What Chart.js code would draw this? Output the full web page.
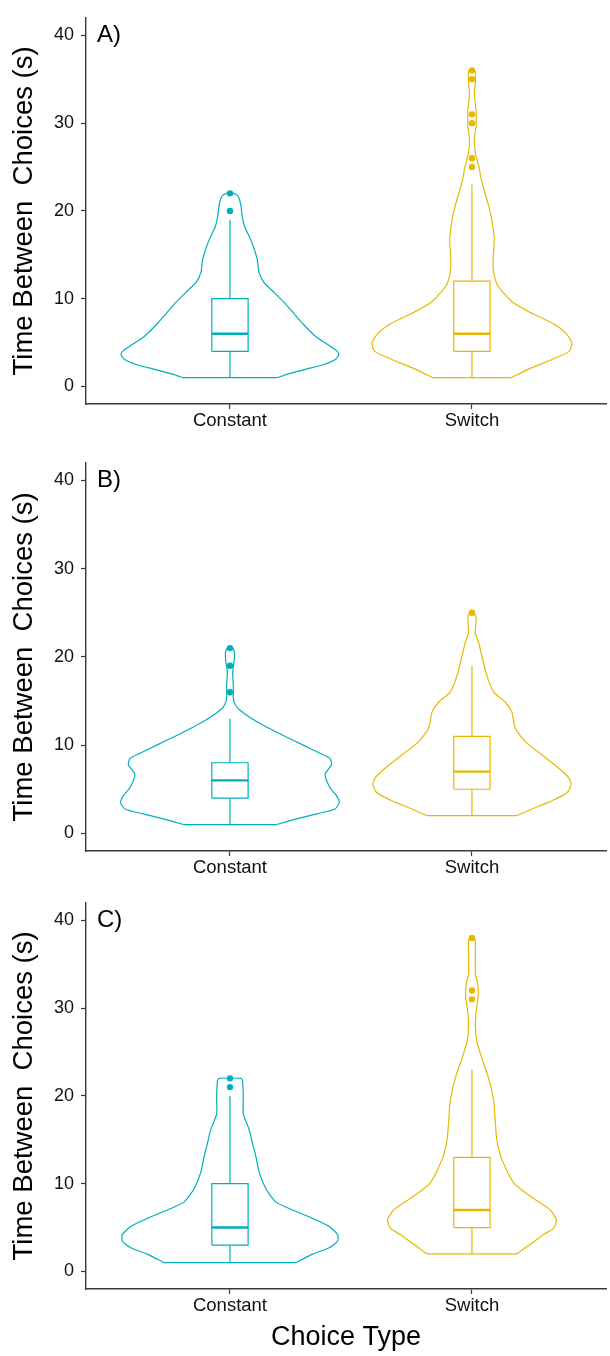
<!DOCTYPE html>
<html>
<head>
<meta charset="utf-8">
<script src="https://cdn.jsdelivr.net/npm/chart.js@4"></script>
<style>
  body { margin: 0; background: #fff; }
  canvas { display: block; }
</style>
</head>
<body>
<canvas id="panelA" width="610" height="445"></canvas>
<canvas id="panelB" width="610" height="440"></canvas>
<canvas id="panelC" width="610" height="471"></canvas>
<script>
const categories = ["Constant", "Switch"];
const panelLabels = ["A)", "B)", "C)"];
const yTicks = [0, 10, 20, 30, 40];
const groupColors = ["#00AFBB", "#E7B800"];

// boxplot summaries, one row per panel, [Constant, Switch]
const whiskerLow  = [[1, 1], [1, 2], [1, 2]];
const q1          = [[4, 4], [4, 5], [3, 5]];
const median      = [[6, 6], [6, 7], [5, 7]];
const q3          = [[10, 12], [8, 11], [10, 13]];
const whiskerHigh = [[19, 23], [13, 19], [20, 23]];
const outliers = [
  [[20, 22], [25, 26, 30, 31, 35, 36]],
  [[16, 19, 21], [25]],
  [[21, 22], [31, 32, 38]]
];

// violin outlines: [time, half width]
const violinAConstant = [[1.0,0.196],[1.4,0.237],[2.0,0.32],[2.5,0.388],[3.1,0.437],[3.65,0.45],[4.0,0.444],[4.8,0.402],[5.7,0.354],[7.0,0.306],[8.3,0.264],[9.6,0.223],[10.9,0.175],[11.85,0.14],[13.0,0.12],[14.45,0.113],[15.75,0.099],[16.7,0.086],[18.2,0.061],[19.3,0.051],[20.8,0.044],[21.7,0.033],[22.0,0.014]];
const violinASwitch = [[1.0,0.161],[2.0,0.237],[3.1,0.333],[4.0,0.402],[4.95,0.413],[6.07,0.388],[7.2,0.333],[8.3,0.25],[9.6,0.168],[11.5,0.106],[13.3,0.088],[14.8,0.088],[16.7,0.092],[18.5,0.085],[20.4,0.071],[22.3,0.051],[23.8,0.037],[24.9,0.03],[25.6,0.023],[26.7,0.014],[28.2,0.01],[29.7,0.017],[31.4,0.017],[33.4,0.01],[34.6,0.014],[35.9,0.014],[36.1,0.006]];
const violinBConstant = [[1.0,0.193],[1.64,0.276],[2.2,0.358],[2.76,0.434],[3.5,0.452],[4.25,0.441],[5.2,0.413],[6.67,0.393],[7.8,0.42],[8.5,0.413],[9.08,0.372],[10.0,0.303],[11.1,0.22],[12.25,0.138],[13.4,0.069],[14.3,0.028],[15.2,0.014],[16.7,0.014],[18.2,0.011],[19.7,0.018],[20.6,0.018],[21.1,0.007]];
const violinBSwitch = [[2.0,0.186],[2.76,0.248],[3.7,0.331],[4.6,0.393],[5.55,0.41],[6.3,0.4],[7.4,0.358],[8.9,0.289],[10.4,0.22],[11.9,0.179],[13.74,0.165],[14.86,0.138],[16.0,0.09],[17.85,0.062],[20.1,0.041],[21.6,0.028],[22.7,0.014],[24.5,0.017],[25.1,0.006]];
const violinCConstant = [[1.0,0.273],[1.97,0.341],[2.7,0.41],[3.46,0.445],[4.2,0.445],[5.13,0.41],[6.05,0.341],[7.0,0.259],[7.9,0.19],[9.4,0.149],[11.26,0.121],[13.1,0.107],[14.6,0.093],[16.1,0.08],[17.95,0.055],[19.8,0.055],[21.7,0.052],[22.0,0.045]];
const violinCSwitch = [[2.0,0.186],[3.09,0.241],[4.2,0.296],[4.94,0.338],[5.87,0.349],[6.99,0.324],[8.3,0.255],[10.1,0.172],[12.74,0.124],[14.97,0.103],[16.8,0.097],[19.4,0.09],[22.0,0.069],[24.3,0.041],[26.1,0.021],[28.0,0.014],[29.8,0.018],[31.3,0.026],[32.8,0.024],[33.9,0.014],[37.6,0.014],[38.1,0.006]];

const violins = [
  [violinAConstant, violinASwitch],
  [violinBConstant, violinBSwitch],
  [violinCConstant, violinCSwitch]
];

// canvas layout per panel: top padding, height of the x axis block
const panelIds = ["panelA", "panelB", "panelC"];
const topPad = [10, 17, 9];
const xAxisHeight = [41, 34, 67];

const FONT = "'Liberation Sans', Arial, Helvetica, sans-serif";
Chart.defaults.font.family = FONT;
Chart.defaults.color = "#111";

const boxHalf = 0.075;
const axisColor = "#3a3a3a";

function line(points, color, width, tension) {
  return {
    data: points,
    showLine: true,
    borderColor: color,
    borderWidth: width,
    pointRadius: 0,
    fill: false,
    tension: tension || 0
  };
}

function groupDatasets(p, g) {
  const c = g + 1;
  const color = groupColors[g];
  const shape = violins[p][g];
  const left = shape.map(([v, w]) => ({ x: c - w, y: v }));
  const right = shape.slice().reverse().map(([v, w]) => ({ x: c + w, y: v }));
  const sets = [];
  sets.push(line(left.concat(right), color, 1.2, 0.2));
  sets.push(line([left[0], right[right.length - 1]], color, 1.2));
  // box
  sets.push(line([
    { x: c - boxHalf, y: q1[p][g] }, { x: c + boxHalf, y: q1[p][g] },
    { x: c + boxHalf, y: q3[p][g] }, { x: c - boxHalf, y: q3[p][g] },
    { x: c - boxHalf, y: q1[p][g] }
  ], color, 1.2));
  sets.push(line([{ x: c - boxHalf, y: median[p][g] }, { x: c + boxHalf, y: median[p][g] }], color, 2.4));
  sets.push(line([{ x: c, y: whiskerLow[p][g] }, { x: c, y: q1[p][g] }], color, 1.2));
  sets.push(line([{ x: c, y: q3[p][g] }, { x: c, y: whiskerHigh[p][g] }], color, 1.2));
  sets.push({
    data: outliers[p][g].map(v => ({ x: c, y: v })),
    showLine: false,
    pointRadius: 3.2,
    pointBackgroundColor: color,
    pointBorderWidth: 0
  });
  return sets;
}

const panelLabelPlugin = {
  id: "panelLabel",
  afterDraw(chart, args, opts) {
    const { ctx, scales } = chart;
    ctx.save();
    ctx.font = "24px " + FONT;
    ctx.fillStyle = "#000";
    ctx.textAlign = "left";
    ctx.textBaseline = "middle";
    ctx.fillText(opts.text, scales.x.getPixelForValue(0.45), scales.y.getPixelForValue(40));
    ctx.restore();
  }
};

panelIds.forEach((id, p) => {
  const isLast = p === panelIds.length - 1;
  new Chart(document.getElementById(id), {
    type: "scatter",
    data: { datasets: [].concat(groupDatasets(p, 0), groupDatasets(p, 1)) },
    options: {
      responsive: false,
      animation: false,
      layout: { padding: { top: topPad[p], left: 0, right: 0, bottom: 0 } },
      plugins: {
        legend: { display: false },
        tooltip: { enabled: false },
        panelLabel: { text: panelLabels[p] }
      },
      scales: {
        x: {
          type: "linear",
          min: 0.405,
          max: 2.554,
          afterBuildTicks: s => { s.ticks = categories.map((_, i) => ({ value: i + 1 })); },
          afterFit: s => { s.height = xAxisHeight[p]; },
          ticks: {
            font: { size: 18.5 },
            color: "#111",
            padding: 1,
            callback: v => categories[v - 1]
          },
          grid: { drawOnChartArea: false, drawTicks: true, tickLength: 5, color: axisColor, tickWidth: 1.2 },
          border: { display: true, color: axisColor, width: 1.4 },
          title: {
            display: isLast,
            text: "Choice Type",
            font: { size: 27 },
            color: "#000",
            padding: { top: 0, bottom: 2 }
          }
        },
        y: {
          type: "linear",
          min: -2,
          max: 42,
          afterBuildTicks: s => { s.ticks = yTicks.map(v => ({ value: v })); },
          afterFit: s => { s.width = 86; },
          ticks: { font: { size: 18 }, color: "#111", padding: 7 },
          grid: { drawOnChartArea: false, drawTicks: true, tickLength: 5, color: axisColor, tickWidth: 1.2 },
          border: { display: true, color: axisColor, width: 1.4 },
          title: {
            display: true,
            text: "Time Between  Choices (s)",
            font: { size: 27.5 },
            color: "#000",
            padding: { top: 8, bottom: 0 }
          }
        }
      }
    },
    plugins: [panelLabelPlugin]
  });
});
</script>
</body>
</html>
